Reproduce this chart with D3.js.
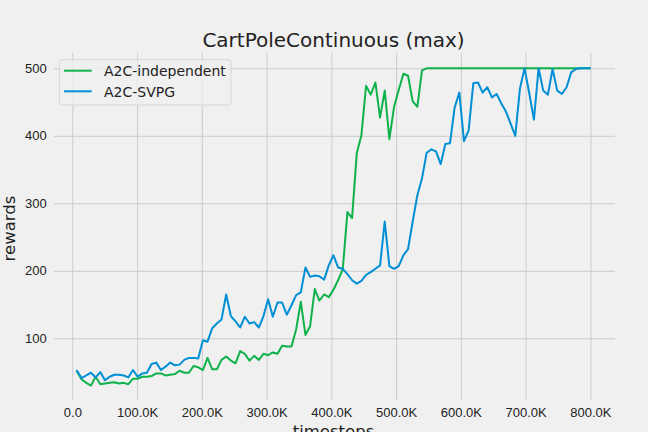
<!DOCTYPE html>
<html>
<head>
<meta charset="utf-8">
<script src="https://cdn.jsdelivr.net/npm/d3@7"></script>
<style>
  html, body { margin: 0; padding: 0; background: #f0f0f0; }
  svg { display: block; font-family: "DejaVu Sans", sans-serif; }
  .grid line { stroke: #cbcbcb; stroke-width: 1; }
  .grid path { display: none; }
  .grid text { fill: #222; font-size: 13px; }
</style>
</head>
<body>
<div id="chart"></div>
<script>
// ── Data ───────────────────────────────────────────────────────────────────
// evaluation points are evenly spaced, every 7.2K steps up to ~800K
const timesteps = d3.range(1, 112).map(k => k * 7200);

const independent = [
  51, 39, 34, 30, 43, 32, 33, 34, 35, 33, 34, 32, 40, 40, 43, 43,
  44, 48, 48, 45, 46, 47, 52, 49, 49, 59, 57, 53, 71, 54, 54, 68,
  73, 67, 63, 81, 77, 67, 74, 68, 77, 75, 79, 77, 89, 88, 88, 113,
  154, 105, 118, 173, 156, 165, 161, 172, 186, 202, 287, 278, 374, 401,
  474, 461, 479, 427, 467, 395, 443, 468, 492, 489, 451, 443, 497, 500,
  500, 500, 500, 500, 500, 500, 500, 500, 500, 500, 500, 500, 500, 500,
  500, 500, 500, 500, 500, 500, 500, 500, 500, 500, 500, 500, 500, 500,
  500, 500, 500, 500, 500, 500, 500
];

const svpg = [
  52, 41, 45, 49, 42, 50, 38, 43, 46, 46, 45, 42, 53, 43, 48, 49,
  62, 64, 53, 58, 64, 60, 61, 68, 71, 71, 70, 97, 95, 115, 122, 128,
  165, 133, 125, 116, 132, 122, 124, 116, 133, 158, 132, 153, 153, 135,
  149, 164, 168, 205, 191, 193, 192, 187, 208, 223, 205, 203, 195, 186,
  181, 185, 194, 198, 203, 208, 273, 207, 203, 207, 223, 232, 273, 312,
  337, 375, 380, 377, 358, 388, 389, 442, 464, 392, 408, 478, 479, 464,
  472, 457, 462, 448, 436, 418, 400, 470, 500, 463, 424, 500, 467, 461,
  499, 467, 462, 472, 494, 499, 500, 500, 500
];

const seriesNames = ["A2C-independent", "A2C-SVPG"];
const xTicks = [0, 100000, 200000, 300000, 400000, 500000, 600000, 700000, 800000];
const yTicks = [100, 200, 300, 400, 500];

// ── Layout ─────────────────────────────────────────────────────────────────
const W = 648, H = 432;
const plot = { left: 54, right: 615, top: 53, bottom: 400 };
const colors = ["#0fb24a", "#008fd5"];

const svg = d3.select("#chart").append("svg")
  .attr("width", W)
  .attr("height", H);

svg.append("rect")
  .attr("width", W).attr("height", H)
  .attr("fill", "#f0f0f0");

const x = d3.scaleLinear()
  .domain([-28300, 838000])
  .range([plot.left, plot.right]);

const y = d3.scaleLinear()
  .domain([8.6, 522.7])
  .range([plot.bottom, plot.top]);

const fmtX = v => v === 0 ? "0.0" : (v / 1000).toFixed(1) + "K";

// ── Grid + axes ────────────────────────────────────────────────────────────
svg.append("g")
  .attr("class", "grid")
  .attr("transform", `translate(0,${plot.bottom})`)
  .call(d3.axisBottom(x)
    .tickValues(xTicks)
    .tickFormat(fmtX)
    .tickSize(-(plot.bottom - plot.top))
    .tickPadding(7.5));

svg.append("g")
  .attr("class", "grid")
  .attr("transform", `translate(${plot.left},0)`)
  .call(d3.axisLeft(y)
    .tickValues(yTicks)
    .tickSize(-(plot.right - plot.left))
    .tickPadding(7.3));

// ── Lines ──────────────────────────────────────────────────────────────────
const line = d3.line()
  .x((d, i) => x(timesteps[i]))
  .y(d => y(d));

[independent, svpg].forEach((vals, k) => {
  svg.append("path")
    .datum(vals)
    .attr("fill", "none")
    .attr("stroke", colors[k])
    .attr("stroke-width", 2)
    .attr("stroke-linejoin", "round")
    .attr("stroke-linecap", "round")
    .attr("d", line);
});

// ── Labels ─────────────────────────────────────────────────────────────────
svg.append("text")
  .attr("x", 333.5).attr("y", 46.7)
  .attr("text-anchor", "middle")
  .style("font-size", "20px")
  .attr("fill", "#222")
  .text("CartPoleContinuous (max)");

svg.append("text")
  .attr("x", 333.5).attr("y", 437)
  .attr("text-anchor", "middle")
  .style("font-size", "16.5px")
  .attr("fill", "#222")
  .text("timesteps");

svg.append("text")
  .attr("transform", "translate(15,228.5) rotate(-90)")
  .attr("text-anchor", "middle")
  .style("font-size", "16.5px")
  .attr("fill", "#222")
  .text("rewards");

// ── Legend ─────────────────────────────────────────────────────────────────
const legend = svg.append("g").attr("transform", "translate(59.3,59.7)");

legend.append("rect")
  .attr("width", 171.7).attr("height", 45.3)
  .attr("rx", 3)
  .attr("fill", "#f0f0f0").attr("fill-opacity", 0.8)
  .attr("stroke", "#d6d6d6");

seriesNames.forEach((name, k) => {
  const ly = 11 + k * 20.6;
  legend.append("line")
    .attr("x1", 4.7).attr("x2", 32.4)
    .attr("y1", ly).attr("y2", ly)
    .attr("stroke", colors[k])
    .attr("stroke-width", 2);
  legend.append("text")
    .attr("x", 44.7).attr("y", ly + 5.3)
    .style("font-size", "14px")
    .attr("fill", "#222")
    .text(name);
});
</script>
</body>
</html>
